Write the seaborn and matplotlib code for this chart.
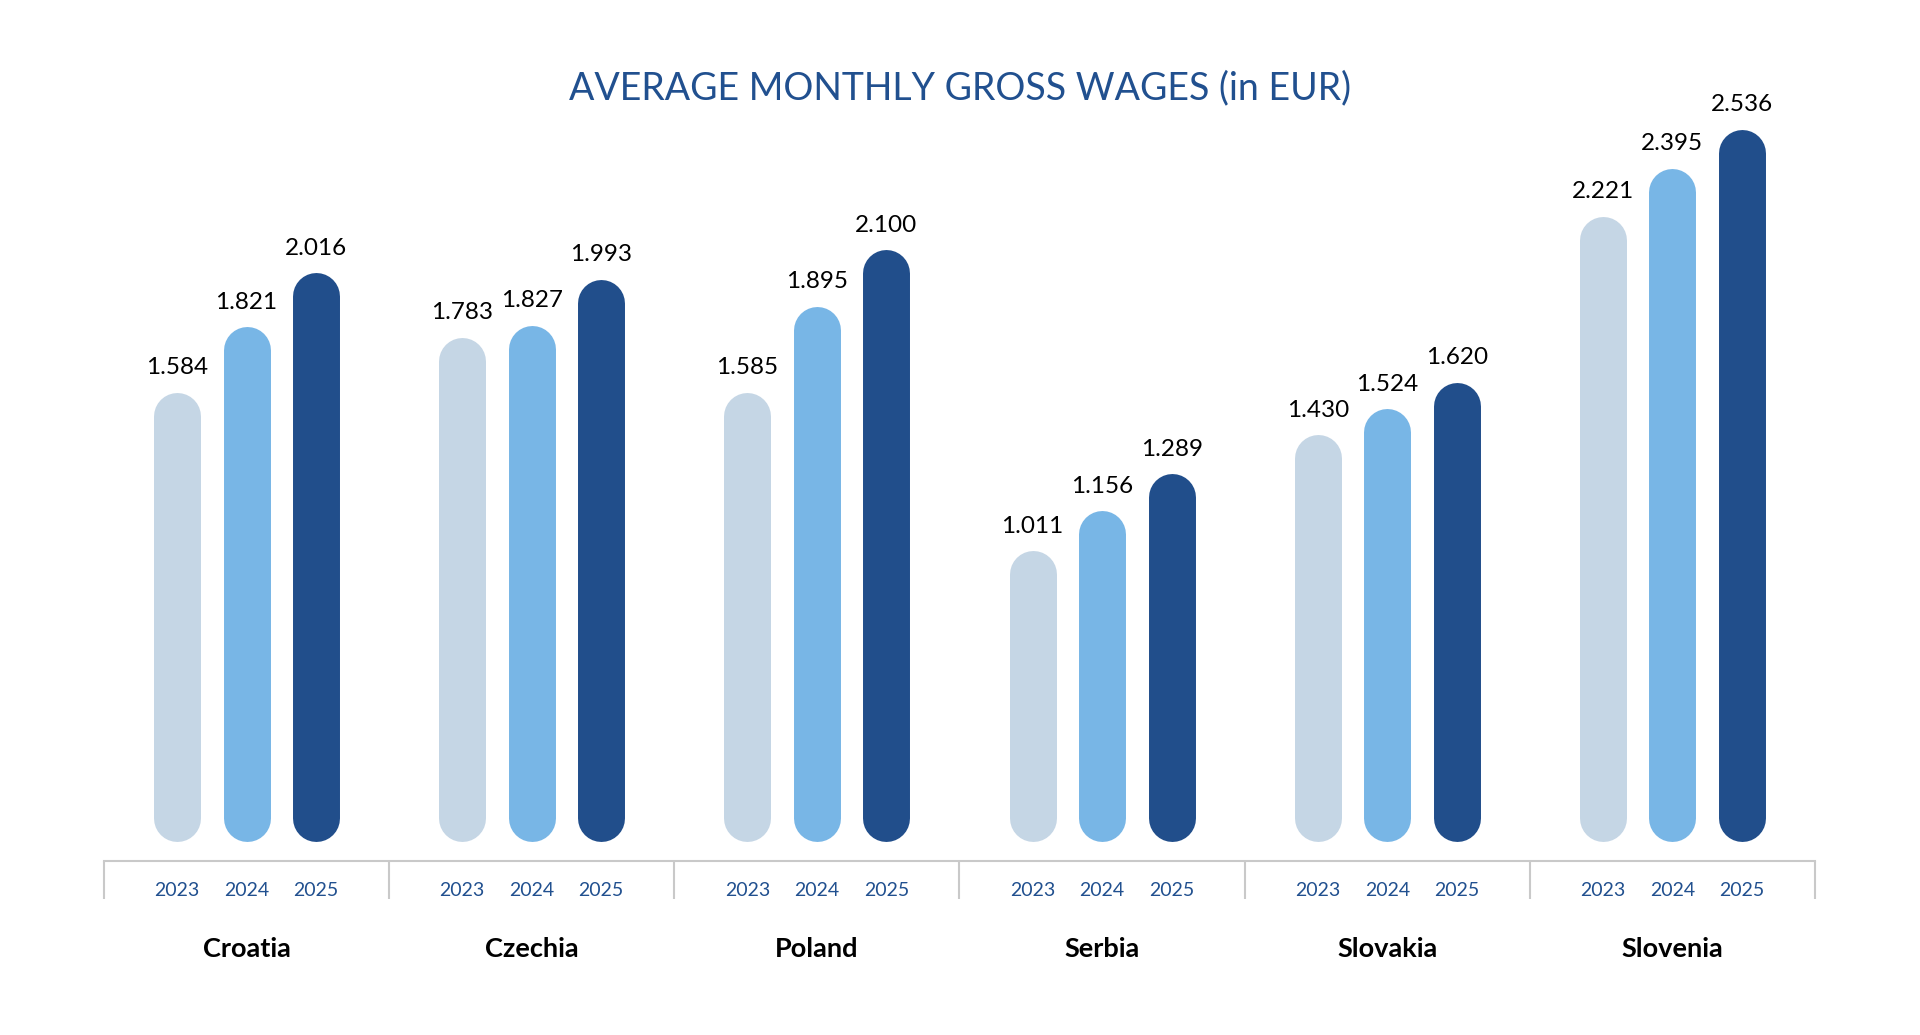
import numpy as np
import pandas as pd
import matplotlib
matplotlib.use('Agg')  # Non-interactive backend
import matplotlib.pyplot as plt
import seaborn as sns

# Chart data
COUNTRIES = ['Croatia', 'Czechia', 'Poland', 'Serbia', 'Slovakia', 'Slovenia']
YEARS = ['2023', '2024', '2025']
WAGES_2023 = [1584, 1783, 1585, 1011, 1430, 2221]
WAGES_2024 = [1821, 1827, 1895, 1156, 1524, 2395]
WAGES_2025 = [2016, 1993, 2100, 1289, 1620, 2536]
TITLE = 'AVERAGE MONTHLY GROSS WAGES (in EUR)'

COLORS = ['#c5d6e5', '#78b6e6', '#214e8b']
DARK_BLUE = '#21508f'
GRID_GRAY = '#c9c9c9'
BAR_BASE = -40  # bars float a little above the axis line

df = pd.DataFrame({
    'country': COUNTRIES * len(YEARS),
    'year': np.repeat(YEARS, len(COUNTRIES)),
    'wage': WAGES_2023 + WAGES_2024 + WAGES_2025,
})

sns.set_theme(style='white')
plt.rcParams['font.family'] = ['Lato', 'DejaVu Sans']

W, H, DPI = 1920, 1035, 100
fig = plt.figure(figsize=(W / DPI, H / DPI), dpi=DPI, facecolor='white')
ax = fig.add_axes([104 / W, (H - 861) / H, 1711 / W, 800 / H])

sns.barplot(data=df, x='country', y='wage', hue='year', palette=COLORS,
            saturation=1, width=0.731, gap=0.324, errorbar=None,
            legend=False, ax=ax)
ax.set_xlim(-0.5, len(COUNTRIES) - 0.5)
ax.set_ylim(-112, 2783)

# turn the flat seaborn bars into pill shaped bars (round capped lines)
ppu_x = ax.bbox.width / (ax.get_xlim()[1] - ax.get_xlim()[0])
ppu_y = ax.bbox.height / (ax.get_ylim()[1] - ax.get_ylim()[0])
bars = [p for p in ax.patches]
for p in bars:
    cx = p.get_x() + p.get_width() / 2
    h = p.get_height()
    w_px = p.get_width() * ppu_x
    r = (w_px / 2) / ppu_y
    ax.plot([cx, cx], [BAR_BASE + r, h - r], color=p.get_facecolor(),
            lw=w_px * 72 / DPI, solid_capstyle='round', zorder=3)
    p.set_visible(False)

    ax.annotate(f'{h:,.0f}'.replace(',', '.'), (cx, h), xytext=(0, 13),
                textcoords='offset points', ha='center', va='baseline',
                fontsize=17.5, color='black')

# year labels under each bar
xaxis_tr = ax.get_xaxis_transform()
for i, p in enumerate(bars):
    cx = p.get_x() + p.get_width() / 2
    year = YEARS[i // len(COUNTRIES)]
    ax.text(cx, -30 / 800, year, transform=xaxis_tr, ha='center', va='center',
            fontsize=14, color=DARK_BLUE)

# country labels
for i, c in enumerate(COUNTRIES):
    ax.text(i, -88 / 800, c, transform=xaxis_tr, ha='center', va='center',
            fontsize=19.5, fontweight='bold', color='black')

# group separators as long ticks
ax.set_xticks(np.arange(-0.5, len(COUNTRIES), 1))
ax.set_xticklabels([])
ax.tick_params(axis='x', direction='out', length=38 * 72 / DPI, width=1.5,
               color=GRID_GRAY, bottom=True)
ax.set_yticks([])
ax.set_xlabel('')
ax.set_ylabel('')
for side in ['top', 'right', 'left']:
    ax.spines[side].set_visible(False)
ax.spines['bottom'].set_color(GRID_GRAY)
ax.spines['bottom'].set_linewidth(1.5)

fig.text(0.5, 1 - 88 / H, TITLE, ha='center', va='center', fontsize=27,
         color=DARK_BLUE)

fig.savefig('out.png', dpi=DPI, facecolor='white')
